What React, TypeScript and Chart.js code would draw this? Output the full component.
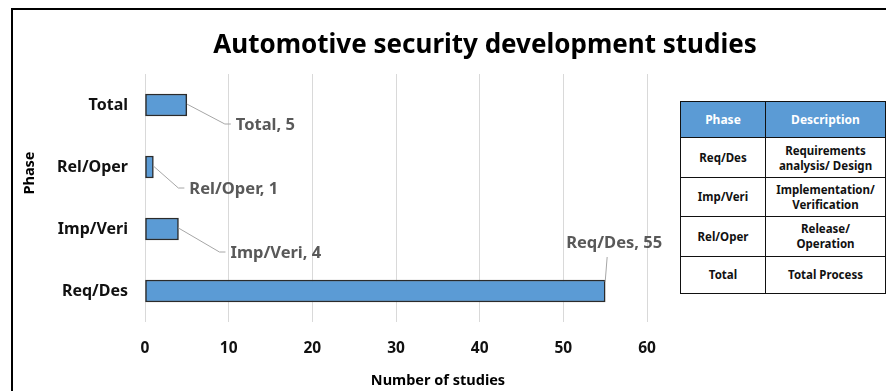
import React, { useEffect, useRef } from "react";
import { Chart, registerables } from "chart.js";

Chart.register(...registerables);

const categories = ["Total", "Rel/Oper", "Imp/Veri", "Req/Des"];
const studies = [5, 1, 4, 55];
const xTicks = [0, 10, 20, 30, 40, 50, 60];
const tableHeader = ["Phase", "Description"];
const tablePhases = ["Req/Des", "Imp/Veri", "Rel/Oper", "Total"];
const tableDescriptions = [
  ["Requirements", "analysis/ Design"],
  ["Implementation/", "Verification"],
  ["Release/", "Operation"],
  ["Total Process"],
];

const FONT = "'Noto Sans', 'Open Sans', sans-serif";

// label placement relative to the bar end: [dx, dy, mode]
const labelPlacement: Array<[number, number, string]> = [
  [49, 20, "side"],
  [36, 22, "side"],
  [52, 24, "side"],
  [9, -48, "above"],
];

const annotatePlugin = {
  id: "annotate",
  afterDatasetsDraw(chart: any) {
    const ctx = chart.ctx;
    ctx.save();
    // title
    ctx.fillStyle = "#000";
    ctx.font = `bold 26px ${FONT}`;
    ctx.textAlign = "center";
    ctx.textBaseline = "middle";
    ctx.fillText("Automotive security development studies", 485, 46);
    // x axis title
    ctx.font = `bold 14.5px ${FONT}`;
    ctx.fillText("Number of studies", 438, 381);
    // y axis title
    ctx.save();
    ctx.translate(30, 173);
    ctx.rotate(-Math.PI / 2);
    ctx.fillText("Phase", 0, 0);
    ctx.restore();

    // data labels with leader lines
    const meta = chart.getDatasetMeta(0);
    meta.data.forEach((bar: any, i: number) => {
      const [dx, dy, mode] = labelPlacement[i];
      const text = `${categories[i]}, ${studies[i]}`;
      ctx.font = `bold 16.5px ${FONT}`;
      ctx.strokeStyle = "#A6A6A6";
      ctx.lineWidth = 1;
      ctx.fillStyle = "#595959";
      const bx = bar.x;
      const by = bar.y;
      ctx.beginPath();
      if (mode === "side") {
        const lx = bx + dx;
        const ly = by + dy;
        ctx.moveTo(bx, by - 1);
        ctx.lineTo(lx - 11, ly - 1);
        ctx.lineTo(lx - 5, ly - 1);
        ctx.stroke();
        ctx.textAlign = "left";
        ctx.textBaseline = "middle";
        ctx.fillText(text, lx, ly);
      } else {
        const cx = bx + dx;
        const cy = by + dy;
        ctx.moveTo(bx, by - 9);
        ctx.lineTo(bx + 2, cy + 14);
        ctx.stroke();
        ctx.textAlign = "center";
        ctx.textBaseline = "middle";
        ctx.fillText(text, cx, cy);
      }
    });
    ctx.restore();
  },
};

function InfoTable() {
  const border = "1.5px solid #111";
  const cell: React.CSSProperties = {
    border,
    textAlign: "center",
    verticalAlign: "middle",
    fontFamily: FONT,
    fontWeight: 700,
    fontSize: "11.5px",
    lineHeight: "15px",
    color: "#111",
    padding: 0,
  };
  const head: React.CSSProperties = {
    ...cell,
    background: "#5B9BD5",
    color: "#fff",
    fontSize: "12px",
    height: "35px",
  };
  return (
    <table
      style={{
        position: "absolute",
        left: 680,
        top: 101,
        width: 206,
        height: 193,
        borderCollapse: "collapse",
        background: "#fff",
      }}
    >
      <tbody>
        <tr>
          <td style={{ ...head, width: 84 }}>{tableHeader[0]}</td>
          <td style={head}>{tableHeader[1]}</td>
        </tr>
        {tablePhases.map((p, i) => (
          <tr key={p}>
            <td style={{ ...cell, height: i === 3 ? "36px" : "38px" }}>{p}</td>
            <td style={cell}>
              {tableDescriptions[i].map((line, j) => (
                <div key={j}>{line}</div>
              ))}
            </td>
          </tr>
        ))}
      </tbody>
    </table>
  );
}

export default function App() {
  const canvasRef = useRef<HTMLCanvasElement | null>(null);

  useEffect(() => {
    if (!canvasRef.current) return;
    const chart = new Chart(canvasRef.current, {
      type: "bar",
      data: {
        labels: categories,
        datasets: [
          {
            data: studies,
            backgroundColor: "#5B9BD5",
            borderColor: "#2B2B2B",
            borderWidth: 1.5,
            barThickness: 22,
            borderSkipped: false,
          },
        ],
      },
      options: {
        indexAxis: "y",
        animation: false,
        responsive: false,
        layout: { padding: { top: 74, right: 239, left: 0, bottom: 0 } },
        plugins: {
          legend: { display: false },
          tooltip: { enabled: false },
          title: { display: false },
        },
        scales: {
          x: {
            min: xTicks[0],
            max: xTicks[xTicks.length - 1],
            afterBuildTicks: (scale: any) => {
              scale.ticks = xTicks.map((v) => ({ value: v }));
            },
            afterFit: (scale: any) => {
              scale.height = 69;
            },
            grid: { color: "#D9D9D9", drawTicks: false, lineWidth: 1 },
            border: { display: false },
            ticks: {
              padding: 17,
              color: "#111",
              font: { family: FONT, size: 15.5, weight: "bold" },
            },
          },
          y: {
            afterFit: (scale: any) => {
              scale.width = 145;
            },
            grid: { display: false, drawTicks: false },
            border: { display: false },
            ticks: {
              padding: 17,
              color: "#111",
              font: { family: FONT, size: 16, weight: "bold" },
            },
          },
        },
      },
      plugins: [annotatePlugin],
    } as any);
    return () => chart.destroy();
  }, []);

  return (
    <div
      style={{
        position: "fixed",
        left: 0,
        top: 0,
        width: 886,
        height: 391,
        background: "#fff",
        overflow: "hidden",
      }}
    >
      <div
        style={{
          position: "absolute",
          left: 11,
          top: 8,
          width: 900,
          height: 420,
          borderLeft: "2px solid #000",
          borderTop: "2px solid #000",
        }}
      />
      <canvas
        ref={canvasRef}
        width={886}
        height={391}
        style={{ position: "absolute", left: 0, top: 0 }}
      />
      <InfoTable />
    </div>
  );
}
